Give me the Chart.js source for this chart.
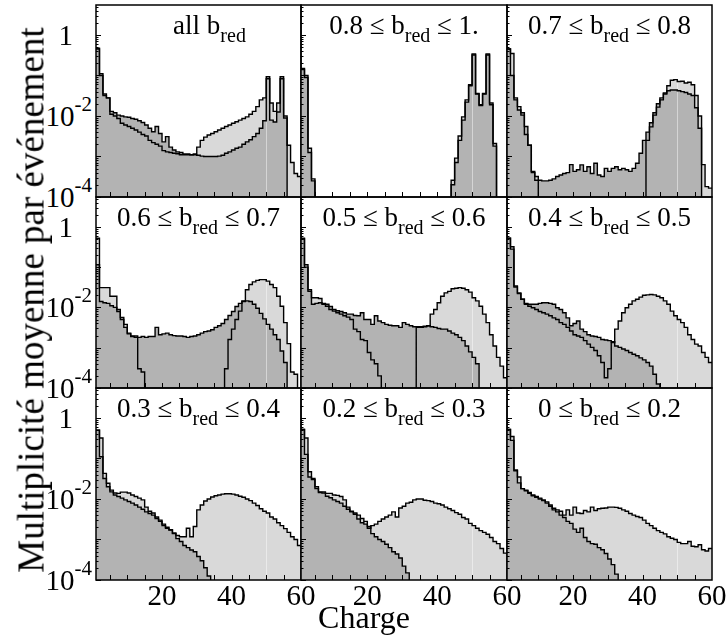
<!DOCTYPE html>
<html><head><meta charset="utf-8">
<script src="https://cdn.jsdelivr.net/npm/chart.js@4/dist/chart.umd.min.js"></script>
<style>
html,body{margin:0;padding:0;background:#fff;}
body{width:727px;height:639px;position:relative;overflow:hidden;font-family:"Liberation Serif","Times New Roman",serif;color:#000;}
canvas{position:absolute;}
.t{position:absolute;white-space:nowrap;}
.sub{position:relative;top:8px;font-size:20px;}
.sup{position:relative;font-size:21px;}
</style></head><body>
<script>
// Charge bins (left edges, bin width 1)
const charges = [1,2,3,4,5,6,7,8,9,10,11,12,13,14,15,16,17,18,19,20,21,22,23,24,25,26,27,28,29,30,31,32,33,34,35,36,37,38,39,40,41,42,43,44,45,46,47,48,49,50,51,52,53,54,55,56,57,58,59];

// Panel titles: text before and after the "red" subscript
const titleBefore = ["all b","0.8 \u2264 b","0.7 \u2264 b","0.6 \u2264 b","0.5 \u2264 b","0.4 \u2264 b","0.3 \u2264 b","0.2 \u2264 b","0 \u2264 b"];
const titleAfter  = [""," \u2264 1."," \u2264 0.8"," \u2264 0.7"," \u2264 0.6"," \u2264 0.5"," \u2264 0.4"," \u2264 0.3"," \u2264 0.2"];

// Axis tick labels
const xTickValues = [20, 40, 60];
const yTickValues = [1, 1e-2, 1e-4];
const yTickBase = ["1", "10", "10"];
const yTickExp = ["", "-2", "-4"];

// Series: mean multiplicity per event (light gray and dark gray histograms)
const light1 = [0.47,0.11,3.5e-2,2.8e-2,1.1e-2,1.0e-2,8.7e-3,6.6e-3,6.0e-3,5.5e-3,5.0e-3,4.5e-3,4.0e-3,3.5e-3,3.2e-3,2.5e-3,2.2e-3,2.0e-3,1.8e-3,1.4e-3,1.3e-3,1.26e-3,1.2e-3,1.17e-3,1.1e-3,1.1e-3,1.1e-3,1.1e-3,1.15e-3,1.7e-3,2.5e-3,3.0e-3,3.4e-3,3.7e-3,4.1e-3,4.5e-3,5.0e-3,5.5e-3,6.0e-3,6.6e-3,7.2e-3,7.9e-3,8.7e-3,9.5e-3,1.1e-2,1.3e-2,1.7e-2,2.5e-2,2.8e-2,9.3e-2,2.1e-2,1.3e-2,2.1e-2,9.3e-2,1.0e-2,1.9e-3,7.1e-4,3.8e-4,3.2e-4];
const dark1 = [0.45,0.1,3.2e-2,2.8e-2,1.3e-2,1.2e-2,1.05e-2,1.0e-2,9.5e-3,9.3e-3,8.7e-3,8.3e-3,7.6e-3,6.9e-3,6.0e-3,5.0e-3,4.1e-3,5.5e-3,3.7e-3,2.3e-3,3.1e-3,1.7e-3,1.45e-3,1.3e-3,1.26e-3,1.15e-3,1.15e-3,1.1e-3,1.1e-3,1.07e-3,1.02e-3,1.0e-3,1.0e-3,1.0e-3,1.0e-3,1.02e-3,1.07e-3,1.2e-3,1.3e-3,1.45e-3,1.6e-3,1.7e-3,2.0e-3,2.3e-3,2.6e-3,3.1e-3,3.7e-3,5.0e-3,7.6e-3,8.3e-2,7.9e-3,7.1e-3,1.26e-2,8.3e-2,8.9e-3,0,0,0,0];

const light2 = [0.15,0.1,1.6e-3,2.8e-4,0,0,0,0,0,0,0,0,0,0,0,0,0,0,0,0,0,0,0,0,0,0,0,0,0,0,0,0,0,0,0,0,0,0,0,0,0,0,0,2.6e-4,9.1e-4,3.2e-3,9.5e-3,2.5e-2,5.9e-2,0.34,3.6e-2,1.9e-2,3.6e-2,0.34,2.1e-2,2.1e-3,0,0,0];
const dark2 = [0.14,8.9e-2,1.26e-3,2.5e-4,0,0,0,0,0,0,0,0,0,0,0,0,0,0,0,0,0,0,0,0,0,0,0,0,0,0,0,0,0,0,0,0,0,0,0,0,0,0,0,2.0e-4,7.1e-4,2.5e-3,7.9e-3,2.2e-2,5.6e-2,0.32,3.5e-2,1.8e-2,3.5e-2,0.32,1.9e-2,1.8e-3,0,0,0];

const light3 = [0.45,0.35,2.5e-2,1.7e-2,1.05e-2,3.5e-3,1.9e-3,4.0e-4,3.2e-4,0,0,0,0,0,0,0,0,0,0,0,0,0,0,0,0,0,0,0,0,0,0,0,0,0,0,0,0,0,0,0,2.5e-3,5.4e-3,1.05e-2,1.66e-2,2.5e-2,3.7e-2,5.6e-2,7.6e-2,7.9e-2,7.1e-2,7.2e-2,6.5e-2,6.8e-2,5.9e-2,3.2e-2,1.0e-2,6.3e-4,1.8e-4,1.66e-4];
const dark3 = [0.45,0.1,2.8e-2,1.4e-2,1.2e-2,5.5e-3,1.9e-3,4.3e-4,2.6e-4,2.6e-4,2.5e-4,2.5e-4,2.6e-4,2.8e-4,3.2e-4,3.5e-4,3.8e-4,4.0e-4,6.3e-4,4.3e-4,4.7e-4,6.2e-4,4.3e-4,5.6e-4,3.8e-4,6.8e-4,3.5e-4,3.2e-4,5.1e-4,4.3e-4,5.1e-4,5.6e-4,4.7e-4,5.1e-4,4.7e-4,4.3e-4,5.1e-4,6.8e-4,1.2e-3,2.5e-3,4.0e-3,6.8e-3,1.2e-2,2.0e-2,2.8e-2,3.5e-2,4.2e-2,4.4e-2,4.4e-2,4.2e-2,4.0e-2,3.8e-2,3.5e-2,3.2e-2,1.6e-2,5.0e-3,0,0,0];

const light4 = [0.52,3.1e-2,3.1e-2,3.1e-2,1.9e-2,1.9e-2,8.9e-3,5.6e-3,3.8e-3,2.3e-3,1.95e-3,1.95e-3,3.0e-4,2.5e-4,0,0,0,0,0,0,0,0,0,0,0,0,0,0,0,0,0,0,0,0,0,0,0,3.0e-4,1.6e-3,2.9e-3,5.0e-3,8.1e-3,1.45e-2,2.75e-2,3.7e-2,4.3e-2,4.7e-2,4.9e-2,4.9e-2,4.5e-2,3.7e-2,3.1e-2,1.9e-2,1.07e-2,4.2e-3,1.26e-3,2.5e-4,2.2e-4,0];
const dark4 = [0.115,1.4e-2,1.3e-2,1.26e-2,1.1e-2,1.0e-2,7.9e-3,5.0e-3,3.2e-3,2.2e-3,1.9e-3,1.8e-3,1.8e-3,1.9e-3,1.8e-3,1.9e-3,1.9e-3,3.2e-3,2.1e-3,2.2e-3,2.3e-3,2.1e-3,2.0e-3,1.95e-3,1.95e-3,1.9e-3,1.8e-3,1.9e-3,1.95e-3,2.1e-3,2.3e-3,2.5e-3,2.6e-3,2.8e-3,3.2e-3,3.5e-3,4.0e-3,5.0e-3,6.3e-3,7.9e-3,1.05e-2,1.26e-2,1.4e-2,1.45e-2,1.4e-2,1.2e-2,9.5e-3,7.1e-3,5.2e-3,3.8e-3,2.9e-3,2.1e-3,1.6e-3,8.3e-4,4.3e-4,0,0,0,0];

const light5 = [0.52,0.115,2.75e-2,1.74e-2,1.74e-2,1.66e-2,1.2e-2,1.07e-2,8.9e-3,8.1e-3,7.4e-3,6.8e-3,6.2e-3,5.75e-3,5.0e-3,2.9e-3,2.5e-3,1.6e-3,1.5e-3,7.6e-4,5.0e-4,4.0e-4,2.0e-4,0,0,0,0,0,0,0,0,0,0,3.2e-3,3.3e-3,3.4e-3,3.5e-3,6.8e-3,8.9e-3,1.3e-2,1.9e-2,2.3e-2,2.5e-2,2.9e-2,3.0e-2,3.1e-2,3.0e-2,2.75e-2,2.4e-2,1.74e-2,1.45e-2,1.07e-2,6.8e-3,4.2e-3,2.1e-3,1.1e-3,5.75e-4,3.5e-4,1.8e-4];
const dark5 = [0.5,0.1,2.5e-2,1.2e-2,1.26e-2,1.3e-2,1.26e-2,1.2e-2,1.05e-2,8.9e-3,8.3e-3,7.9e-3,7.4e-3,6.8e-3,6.8e-3,6.3e-3,6.2e-3,7.4e-3,5.0e-3,5.0e-3,3.8e-3,6.2e-3,4.6e-3,4.2e-3,3.8e-3,3.6e-3,3.5e-3,3.5e-3,3.2e-3,4.2e-3,3.8e-3,3.5e-3,3.3e-3,3.3e-3,3.2e-3,3.3e-3,3.5e-3,3.3e-3,3.2e-3,3.0e-3,2.9e-3,2.9e-3,2.6e-3,2.3e-3,2.1e-3,1.8e-3,1.5e-3,1.1e-3,7.9e-4,5.75e-4,4.0e-4,0,0,0,0,0,0,0,0];

const light6 = [0.52,0.32,3.4e-2,2.3e-2,1.6e-2,1.2e-2,1.07e-2,9.8e-3,8.9e-3,7.9e-3,7.4e-3,6.8e-3,6.2e-3,5.5e-3,5.0e-3,4.2e-3,3.8e-3,3.2e-3,2.6e-3,2.1e-3,1.95e-3,1.8e-3,1.5e-3,1.23e-3,1.02e-3,8.5e-4,6.3e-4,4.3e-4,1.8e-4,3.0e-4,1.35e-3,2.9e-3,4.6e-3,7.4e-3,9.8e-3,1.2e-2,1.45e-2,1.6e-2,1.8e-2,2.0e-2,2.05e-2,2.1e-2,2.05e-2,1.9e-2,1.74e-2,1.45e-2,1.2e-2,8.1e-3,6.2e-3,5.0e-3,4.2e-3,3.2e-3,2.1e-3,1.6e-3,1.23e-3,1.1e-3,7.6e-4,5.75e-4,4.3e-4];
const dark6 = [0.52,0.28,3.2e-2,2.2e-2,1.6e-2,1.26e-2,1.2e-2,1.2e-2,1.2e-2,1.26e-2,1.3e-2,1.3e-2,1.26e-2,1.2e-2,9.8e-3,8.9e-3,7.4e-3,5.5e-3,3.5e-3,4.0e-3,4.6e-3,2.9e-3,2.5e-3,2.1e-3,1.95e-3,1.9e-3,1.8e-3,1.6e-3,1.55e-3,1.5e-3,1.4e-3,1.1e-3,1.02e-3,9.3e-4,8.5e-4,7.6e-4,6.9e-4,6.3e-4,5.6e-4,5.0e-4,4.3e-4,3.5e-4,2.2e-4,1.26e-4,0,0,0,0,0,0,0,0,0,0,0,0,0,0,0];

const light7 = [0.5,0.32,4.3e-2,2.45e-2,1.66e-2,1.4e-2,1.38e-2,1.48e-2,1.48e-2,1.4e-2,1.26e-2,1.15e-2,1.05e-2,9.5e-3,6.3e-3,5.0e-3,4.5e-3,3.6e-3,3.0e-3,2.2e-3,1.9e-3,1.7e-3,1.4e-3,1.26e-3,1.17e-3,1.17e-3,1.9e-3,1.17e-3,2.1e-3,5.4e-3,7.1e-3,8.9e-3,1.0e-2,1.12e-2,1.2e-2,1.26e-2,1.32e-2,1.35e-2,1.35e-2,1.32e-2,1.26e-2,1.17e-2,1.1e-2,1.0e-2,9.1e-3,7.9e-3,6.9e-3,5.75e-3,5.0e-3,4.5e-3,3.6e-3,3.2e-3,2.6e-3,2.2e-3,1.86e-3,1.5e-3,1.17e-3,1.0e-3,7.1e-4];
const dark7 = [0.5,0.11,3.2e-2,2.0e-2,1.5e-2,1.26e-2,1.15e-2,1.05e-2,9.5e-3,8.7e-3,7.9e-3,7.1e-3,6.3e-3,5.6e-3,4.8e-3,4.4e-3,4.0e-3,3.3e-3,2.8e-3,2.4e-3,2.0e-3,1.74e-3,1.45e-3,1.05e-3,8.9e-4,7.1e-4,6.3e-4,5.5e-4,5.0e-4,3.8e-4,3.0e-4,2.0e-4,1.26e-4,0,0,0,0,0,0,0,0,0,0,0,0,0,0,0,0,0,0,0,0,0,0,0,0,0,0];

const light8 = [0.52,0.32,4.7e-2,3.2e-2,2.0e-2,1.5e-2,1.5e-2,1.38e-2,1.38e-2,1.26e-2,1.23e-2,1.15e-2,9.5e-3,6.3e-3,5.0e-3,4.5e-3,4.0e-3,3.3e-3,2.8e-3,1.9e-3,2.2e-3,2.4e-3,2.8e-3,3.2e-3,3.6e-3,4.0e-3,4.8e-3,3.6e-3,6.0e-3,6.6e-3,7.9e-3,8.3e-3,9.5e-3,1.0e-2,1.0e-2,9.3e-3,9.1e-3,8.7e-3,7.9e-3,7.6e-3,7.1e-3,6.3e-3,5.75e-3,5.2e-3,4.6e-3,4.2e-3,3.5e-3,3.2e-3,2.5e-3,2.2e-3,1.9e-3,1.66e-3,1.5e-3,1.35e-3,1.12e-3,8.9e-4,7.9e-4,6.0e-4,4.6e-4];
const dark8 = [0.52,0.126,3.5e-2,3.0e-2,1.8e-2,1.45e-2,1.4e-2,1.17e-2,1.07e-2,9.5e-3,8.7e-3,7.9e-3,6.6e-3,5.6e-3,4.8e-3,4.2e-3,3.2e-3,2.6e-3,2.4e-3,2.1e-3,1.4e-3,1.17e-3,1.0e-3,8.9e-4,7.6e-4,6.3e-4,5.0e-4,4.4e-4,3.5e-4,2.2e-4,1.5e-4,0,0,0,0,0,0,0,0,0,0,0,0,0,0,0,0,0,0,0,0,0,0,0,0,0,0,0,0];

const light9 = [0.52,0.35,5.2e-2,3.5e-2,1.8e-2,1.66e-2,1.45e-2,1.26e-2,1.15e-2,1.05e-2,9.5e-3,8.5e-3,7.1e-3,5.9e-3,5.4e-3,5.0e-3,4.0e-3,5.4e-3,4.0e-3,6.3e-3,4.5e-3,4.4e-3,5.2e-3,4.8e-3,6.3e-3,5.2e-3,5.75e-3,5.9e-3,6.0e-3,6.3e-3,6.3e-3,6.2e-3,5.9e-3,5.4e-3,5.0e-3,4.4e-3,4.0e-3,3.7e-3,3.5e-3,3.0e-3,2.5e-3,2.2e-3,1.9e-3,1.66e-3,1.5e-3,1.38e-3,1.17e-3,1.07e-3,1.0e-3,8.5e-4,7.9e-4,7.9e-4,8.9e-4,6.8e-4,6.6e-4,7.4e-4,5.6e-4,5.2e-4,6.0e-4];
const dark9 = [0.52,0.28,5.0e-2,2.5e-2,1.8e-2,1.6e-2,1.38e-2,1.2e-2,1.1e-2,1.0e-2,9.1e-3,7.9e-3,6.6e-3,5.4e-3,4.8e-3,4.0e-3,3.5e-3,2.8e-3,2.5e-3,1.8e-3,1.5e-3,1.9e-3,1.12e-3,8.9e-4,7.9e-4,7.6e-4,6.3e-4,5.6e-4,4.5e-4,3.3e-4,2.4e-4,1.4e-4,0,0,0,0,0,0,0,0,0,0,0,0,0,0,0,0,0,0,0,0,0,0,0,0,0,0,0];

const lightSeries = [light1, light2, light3, light4, light5, light6, light7, light8, light9];
const darkSeries  = [dark1, dark2, dark3, dark4, dark5, dark6, dark7, dark8, dark9];

// ---------- layout ----------
const colEdges = [96, 301, 507, 712];
const rowEdges = [5, 197, 388, 580];
const PAD = 3;
const X_MIN = 1, X_MAX = 60, Y_MIN = 1e-4, Y_MAX = 5.5;
const EMPTY = 1e-8; // an empty bin (0) cannot be shown on a log axis: drawn below the axis floor
const SEAM_X = 50;  // faint light seam through the fills, as in the original print
const titleShift = [11,0,0,0,0,0,0,0,0];

function histPoints(values) {
  const pts = charges.map((z, i) => ({x: z, y: values[i] > 0 ? values[i] : EMPTY}));
  const last = values[values.length - 1];
  pts.push({x: X_MAX, y: last > 0 ? last : EMPTY});
  return pts;
}

const seamPlugin = {
  id: 'seam',
  afterDatasetDraw(chart, args) {
    if (args.index !== 1) return;
    const p = chart.options.plugins.seam.panel;
    const i = charges.indexOf(SEAM_X);
    const envL = Math.max(lightSeries[p][i - 1], darkSeries[p][i - 1]);
    const envR = Math.max(lightSeries[p][i], darkSeries[p][i]);
    const top = Math.min(envL, envR);
    if (!(top > Y_MIN)) return;
    const {ctx, chartArea: a} = chart;
    const px = Math.round(chart.scales.x.getPixelForValue(SEAM_X)) + 0.5;
    const py = chart.scales.y.getPixelForValue(top);
    ctx.save();
    ctx.strokeStyle = 'rgba(255,255,255,0.45)';
    ctx.lineWidth = 1;
    ctx.beginPath(); ctx.moveTo(px, a.bottom); ctx.lineTo(px, py + 1); ctx.stroke();
    ctx.restore();
  }
};

const framePlugin = {
  id: 'frame',
  afterDatasetsDraw(chart) {
    const {ctx, chartArea: a} = chart;
    const x = chart.scales.x, y = chart.scales.y;
    ctx.save();
    ctx.strokeStyle = '#000';
    ctx.lineWidth = 1;
    ctx.beginPath();
    for (let v = 5; v < X_MAX; v += 5) {
      const px = Math.round(x.getPixelForValue(v)) + 0.5;
      ctx.moveTo(px, a.bottom); ctx.lineTo(px, a.bottom - 5);
    }
    for (let d = -4; d <= 0; d++) {
      for (let m = 1; m <= 9; m++) {
        const v = m * Math.pow(10, d);
        if (v > Y_MAX) break;
        const py = Math.round(y.getPixelForValue(v)) + 0.5;
        ctx.moveTo(a.left, py); ctx.lineTo(a.left + (m === 1 ? 5 : 2.5), py);
      }
    }
    ctx.stroke();
    ctx.lineWidth = 1.5;
    ctx.strokeRect(a.left, a.top, a.right - a.left, a.bottom - a.top);
    ctx.restore();
  }
};

function addText(html, x, baseline, size, align) {
  const d = document.createElement('div');
  d.className = 't';
  d.style.fontSize = size + 'px';
  d.style.lineHeight = size + 'px';
  d.style.top = (baseline - 0.8375 * size) + 'px';
  d.style.left = x + 'px';
  if (align === 'center') d.style.transform = 'translateX(-50%)';
  else if (align === 'right') d.style.transform = 'translateX(-100%)';
  d.innerHTML = html;
  document.body.appendChild(d);
  return d;
}

const charts = [];
for (let p = 0; p < 9; p++) {
  const r = Math.floor(p / 3), c = p % 3;
  const L = colEdges[c], R = colEdges[c + 1], T = rowEdges[r], B = rowEdges[r + 1];
  const cv = document.createElement('canvas');
  cv.width = R - L + 2 * PAD; cv.height = B - T + 2 * PAD;
  cv.style.left = (L - PAD) + 'px'; cv.style.top = (T - PAD) + 'px';
  cv.style.width = cv.width + 'px'; cv.style.height = cv.height + 'px';
  document.body.appendChild(cv);
  const lp = histPoints(lightSeries[p]), dp = histPoints(darkSeries[p]);
  const common = {stepped: true, pointRadius: 0, pointHoverRadius: 0, tension: 0};
  const chart = new Chart(cv, {
    type: 'line',
    data: {datasets: [
      Object.assign({data: lp, fill: 'start', backgroundColor: '#d9d9d9', borderColor: 'rgba(0,0,0,0)', borderWidth: 1, order: 4}, common),
      Object.assign({data: dp, fill: 'start', backgroundColor: '#b3b3b3', borderColor: 'rgba(0,0,0,0)', borderWidth: 1, order: 3}, common),
      Object.assign({data: lp, fill: false, borderColor: '#000', borderWidth: 1.4, order: 2}, common),
      Object.assign({data: dp, fill: false, borderColor: '#000', borderWidth: 1.4, order: 1}, common)
    ]},
    options: {
      responsive: false, animation: false, devicePixelRatio: 1,
      layout: {padding: PAD},
      plugins: {legend: {display: false}, tooltip: {enabled: false}, title: {display: false}, seam: {panel: p}},
      events: [],
      scales: {
        x: {type: 'linear', min: X_MIN, max: X_MAX, display: false},
        y: {type: 'logarithmic', min: Y_MIN, max: Y_MAX, display: false}
      }
    },
    plugins: [seamPlugin, framePlugin]
  });
  charts.push(chart);

  const ox = L - PAD, oy = T - PAD;
  // Panel title
  addText(titleBefore[p] + '<span class="sub">red</span>' + titleAfter[p],
          (L + R) / 2 + titleShift[p], T + 30, 27, 'center');
  // Y tick labels (left column only)
  if (c === 0) {
    yTickValues.forEach((v, i) => {
      const py = oy + chart.scales.y.getPixelForValue(v);
      if (yTickExp[i] === '') {
        addText(yTickBase[i], L - 23, py + 10, 29, 'right');
      } else {
        addText(yTickBase[i] + '<span class="sup" style="top:-15px">' + yTickExp[i] + '</span>', L - 4, py + 10, 29, 'right');
      }
    });
  }
  // X tick labels (bottom row only)
  if (r === 2) {
    xTickValues.forEach(v => {
      const px = ox + chart.scales.x.getPixelForValue(v);
      addText(String(v), px, B + 25, 29, 'center');
    });
  }
}

// Axis titles
addText('Charge', 364, 628, 32, 'center');
const yt = addText('Multiplicit\u00e9 moyenne par \u00e9v\u00e9nement', 0, 0, 37, '');
yt.style.left = '31px'; yt.style.top = '300px';
yt.style.transform = 'translate(-50%,-50%) rotate(-90deg)';
</script>
</body></html>
